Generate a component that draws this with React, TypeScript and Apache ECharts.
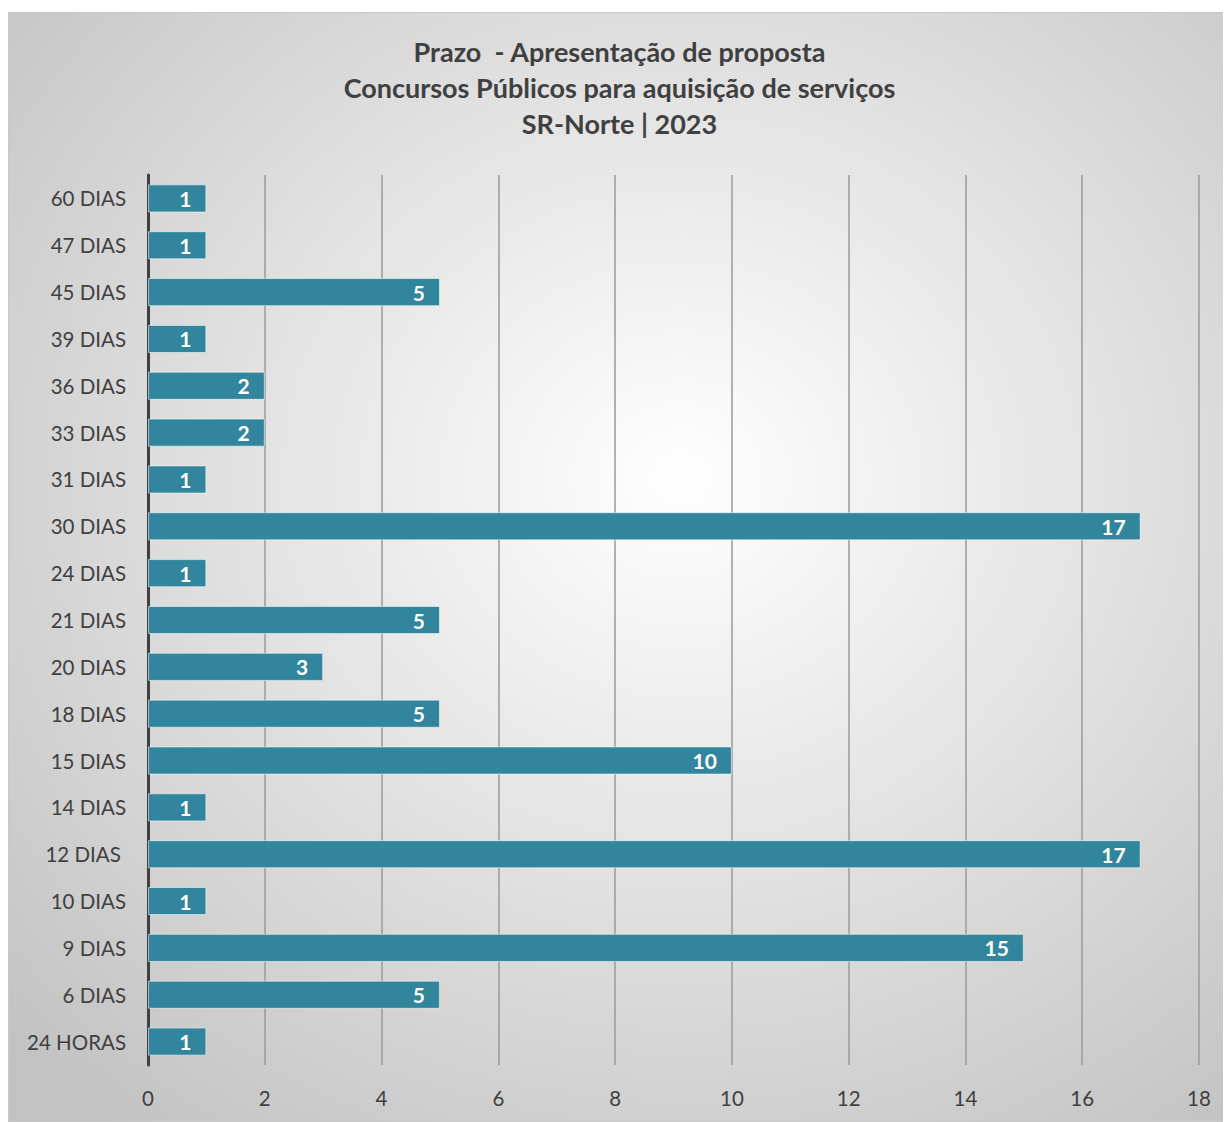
import React, { useEffect, useRef } from "react";
import * as echarts from "echarts";

const categories = [
  "24 HORAS", "6 DIAS", "9 DIAS", "10 DIAS", "12 DIAS ", "14 DIAS", "15 DIAS",
  "18 DIAS", "20 DIAS", "21 DIAS", "24 DIAS", "30 DIAS", "31 DIAS", "33 DIAS",
  "36 DIAS", "39 DIAS", "45 DIAS", "47 DIAS", "60 DIAS",
];
const values = [1, 5, 15, 1, 17, 1, 10, 5, 3, 5, 1, 17, 1, 2, 2, 1, 5, 1, 1];
const titleLines = [
  "Prazo  - Apresentação de proposta",
  "Concursos Públicos para aquisição de serviços",
  "SR-Norte | 2023",
];

const FONT = "Lato, 'Open Sans', sans-serif";

export default function App() {
  const ref = useRef<HTMLDivElement>(null);
  useEffect(() => {
    document.body.style.overflow = "hidden";
    const chart = echarts.init(ref.current!, undefined, { renderer: "svg" });
    chart.setOption({
      animation: false,
      backgroundColor: {
        type: "radial",
        x: 0.55,
        y: 0.42,
        r: 0.75,
        colorStops: [
          { offset: 0, color: "#ffffff" },
          { offset: 1, color: "#c2c2c2" },
        ],
      },
      title: {
        text: titleLines.join("\n"),
        left: "center",
        top: 15,
        textStyle: {
          fontFamily: FONT,
          fontSize: 27,
          fontWeight: "bold",
          color: "#404040",
          lineHeight: 36,
        },
      },
      grid: { left: 139, right: 31, top: 162, bottom: 56, containLabel: false },
      xAxis: {
        type: "value",
        min: 0,
        max: 18,
        interval: 2,
        axisLine: { show: false },
        axisTick: { show: false },
        axisLabel: { fontFamily: FONT, fontSize: 20.5, color: "#404040", margin: 22 },
        splitLine: { show: true, lineStyle: { color: "#9a9a9a", width: 1.5 } },
      },
      yAxis: {
        type: "category",
        data: categories,
        axisLine: { show: true, lineStyle: { color: "#404040", width: 3 } },
        axisTick: { show: false },
        axisLabel: { fontFamily: FONT, fontSize: 20.5, color: "#404040", margin: 22 },
      },
      series: [
        {
          type: "bar",
          data: values,
          barCategoryGap: "40%",
          itemStyle: {
            color: "#31859c",
            borderColor: "rgba(255,255,255,0.55)",
            borderWidth: 1,
          },
          label: {
            show: true,
            position: "insideRight",
            distance: 15,
            fontFamily: FONT,
            fontSize: 21,
            fontWeight: "bold",
            color: "#ffffff",
          },
        },
      ],
    });
    return () => chart.dispose();
  }, []);
  return (
    <div
      ref={ref}
      style={{
        width: 1223,
        height: 1110,
        marginTop: 4,
        boxSizing: "border-box",
        border: "1px solid #c8c8c8",
      }}
    />
  );
}
